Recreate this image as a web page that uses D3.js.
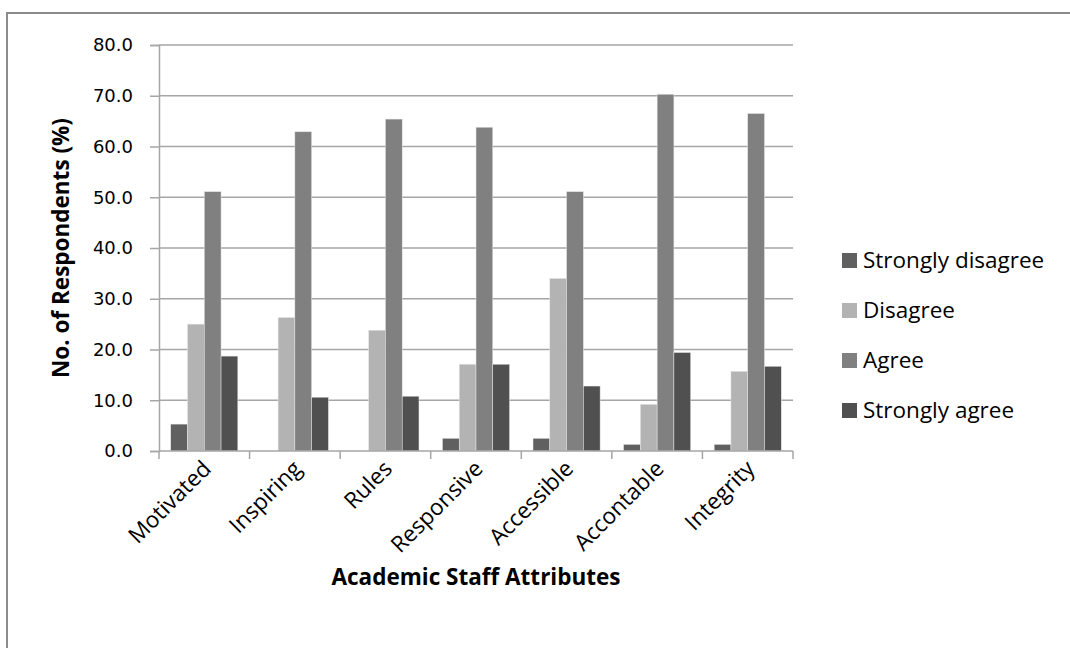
<!DOCTYPE html>
<html>
<head>
<meta charset="utf-8">
<script src="https://cdn.jsdelivr.net/npm/d3@7"></script>
<style>
  body { margin: 0; background: #fff; }
  svg { display: block; }
</style>
</head>
<body>
<svg id="chart"></svg>
<script>
// data
const categories = ['Motivated', 'Inspiring', 'Rules', 'Responsive', 'Accessible', 'Accontable', 'Integrity'];
const seriesNames = ['Strongly disagree', 'Disagree', 'Agree', 'Strongly agree'];
const stronglyDisagree = [5.3, 0, 0, 2.5, 2.5, 1.3, 1.3];
const disagree = [25.0, 26.3, 23.8, 17.1, 34.0, 9.2, 15.7];
const agree = [51.1, 62.9, 65.4, 63.8, 51.1, 70.3, 66.5];
const stronglyAgree = [18.7, 10.6, 10.8, 17.1, 12.8, 19.4, 16.7];
const yTicks = [0, 10, 20, 30, 40, 50, 60, 70, 80];

const series = [stronglyDisagree, disagree, agree, stronglyAgree];
const colours = ['#606060', '#b3b3b3', '#808080', '#505050'];

const W = 1070, H = 648;
const plot = {left: 159, right: 793, top: 45, bottom: 451};
const font = 'Open Sans';
const fontSize = '22.5px';

const svg = d3.select('#chart').attr('width', W).attr('height', H);

// outer frame (only top and left edges are inside the picture)
svg.append('rect')
    .attr('x', 7).attr('y', 13)
    .attr('width', 1200).attr('height', 800)
    .attr('fill', 'none')
    .attr('stroke', '#8c8c8c')
    .attr('stroke-width', 2);

const x = d3.scaleBand().domain(categories).range([plot.left, plot.right]).padding(0);
const xs = d3.scaleBand().domain(seriesNames).range([0, x.bandwidth()])
    .paddingInner(0).paddingOuter(0.7);
const y = d3.scaleLinear().domain([0, 80]).range([plot.bottom, plot.top]);

// gridlines
svg.append('g')
    .selectAll('line')
    .data(yTicks.filter(d => d > 0))
    .enter().append('line')
    .attr('x1', plot.left).attr('x2', plot.right)
    .attr('y1', d => y(d)).attr('y2', d => y(d))
    .attr('stroke', '#a6a6a6')
    .attr('stroke-width', 1.5);

// bars
const groups = svg.append('g')
    .selectAll('g')
    .data(series)
    .enter().append('g')
    .attr('fill', (d, i) => colours[i]);

groups.selectAll('rect')
    .data((d, i) => d.map((v, j) => ({v: v, cat: categories[j], s: seriesNames[i]})))
    .enter().append('rect')
    .attr('x', d => x(d.cat) + xs(d.s))
    .attr('width', xs.bandwidth())
    .attr('y', d => y(d.v))
    .attr('height', d => y(0) - y(d.v))
    .attr('stroke', '#e6e6e6')
    .attr('stroke-width', 0.5);

// y axis
const yAxis = svg.append('g')
    .attr('transform', 'translate(' + plot.left + ',0)')
    .call(d3.axisLeft(y).tickValues(yTicks).tickFormat(d3.format('.1f')).tickSize(9).tickPadding(17));
yAxis.select('.domain').attr('stroke', '#a6a6a6').attr('stroke-width', 1.5);
yAxis.selectAll('.tick line').attr('stroke', '#a6a6a6').attr('stroke-width', 1.5);
yAxis.selectAll('.tick text')
    .attr('font-family', 'DejaVu Sans')
    .attr('font-size', '18px')
    .attr('fill', '#000');

// x axis
const xAxis = svg.append('g')
    .attr('transform', 'translate(0,' + plot.bottom + ')');
xAxis.append('line')
    .attr('x1', plot.left).attr('x2', plot.right)
    .attr('stroke', '#a6a6a6').attr('stroke-width', 1.5);
xAxis.selectAll('.xtick')
    .data(categories.concat(['end']))
    .enter().append('line')
    .attr('class', 'xtick')
    .attr('x1', d => d === 'end' ? plot.right : x(d))
    .attr('x2', d => d === 'end' ? plot.right : x(d))
    .attr('y1', 0).attr('y2', 8)
    .attr('stroke', '#a6a6a6').attr('stroke-width', 1.5);
xAxis.selectAll('.xlabel')
    .data(categories)
    .enter().append('text')
    .attr('class', 'xlabel')
    .attr('transform', d => 'translate(' + (x(d) + x.bandwidth() / 2 - 3) + ',8) rotate(-45)')
    .attr('text-anchor', 'end')
    .attr('dy', '0.7em')
    .attr('font-family', font)
    .attr('font-size', fontSize)
    .text(d => d);

// axis titles
svg.append('text')
    .attr('x', (plot.left + plot.right) / 2)
    .attr('y', 585)
    .attr('text-anchor', 'middle')
    .attr('font-family', font)
    .attr('font-weight', 'bold')
    .attr('font-size', fontSize)
    .text('Academic Staff Attributes');

svg.append('text')
    .attr('transform', 'translate(69,' + ((plot.top + plot.bottom) / 2) + ') rotate(-90)')
    .attr('text-anchor', 'middle')
    .attr('font-family', font)
    .attr('font-weight', 'bold')
    .attr('font-size', fontSize)
    .text('No. of Respondents (%)');

// legend
const legend = svg.selectAll('.legend')
    .data(seriesNames)
    .enter().append('g')
    .attr('class', 'legend')
    .attr('transform', (d, i) => 'translate(842,' + (253 + i * 50) + ')');

legend.append('rect')
    .attr('width', 15).attr('height', 15)
    .attr('fill', (d, i) => colours[i]);

legend.append('text')
    .attr('x', 21)
    .attr('y', 15)
    .attr('font-family', font)
    .attr('font-size', fontSize)
    .text(d => d);
</script>
</body>
</html>
